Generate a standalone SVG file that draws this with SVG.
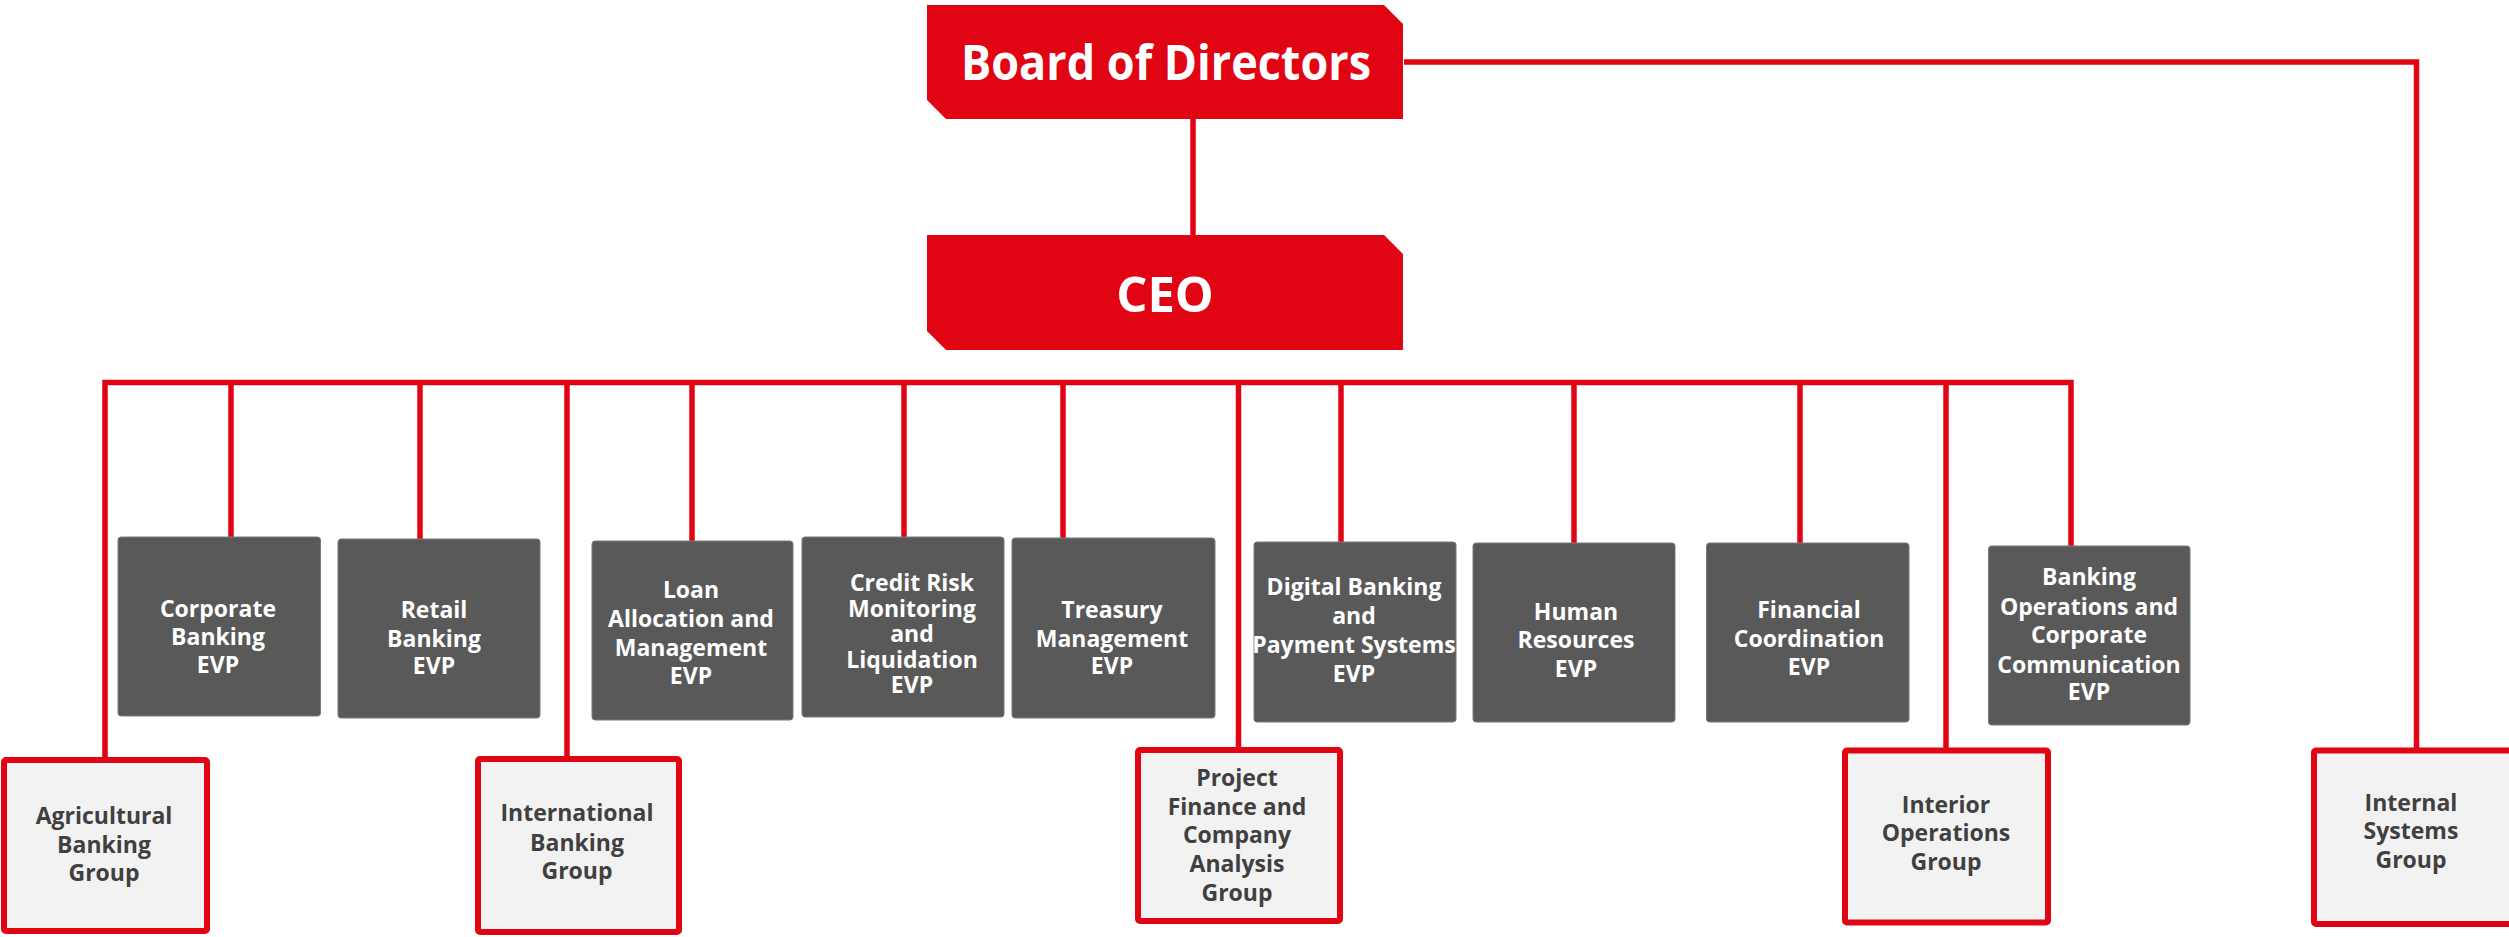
<svg xmlns="http://www.w3.org/2000/svg" width="2509" height="937" viewBox="0 0 2509 937">
<style>
.bg{fill:#ffffff}
.top{fill:#e10514}
.toptxt{font-family:"Open Sans","Liberation Sans",sans-serif;font-weight:700;font-size:49px;fill:#ffffff;text-anchor:middle}
.evp{fill:#595959;stroke:#7a7a7a;stroke-width:1}
.evptxt{font-family:"Open Sans","Liberation Sans",sans-serif;font-weight:700;font-size:23px;fill:#ffffff;text-anchor:middle}
.grp{fill:#f2f2f2;stroke:#e10514;stroke-width:6}
.grptxt{font-family:"Open Sans","Liberation Sans",sans-serif;font-weight:700;font-size:23px;fill:#404040;text-anchor:middle}
.wire{fill:none;stroke:#e10514;stroke-width:5.5;stroke-linejoin:miter;stroke-linecap:butt}
</style>
<rect class="bg" x="0" y="0" width="2509" height="937"/>

<g id="connectors">
  <path class="wire" d="M1404,62 H2416.5 V748"/>
  <path class="wire" d="M1193,119 V235"/>
  <path class="wire" d="M105,757 V382.5 H2071 V546"/>
  <path class="wire" d="M231,382.5 V537"/>
  <path class="wire" d="M420,382.5 V539"/>
  <path class="wire" d="M567,382.5 V756"/>
  <path class="wire" d="M692,382.5 V541"/>
  <path class="wire" d="M904,382.5 V537"/>
  <path class="wire" d="M1063,382.5 V538"/>
  <path class="wire" d="M1238.5,382.5 V747"/>
  <path class="wire" d="M1341,382.5 V542"/>
  <path class="wire" d="M1574,382.5 V543"/>
  <path class="wire" d="M1800,382.5 V543"/>
  <path class="wire" d="M1946,382.5 V748"/>
</g>

<g id="board">
  <polygon class="top" points="927,5 1384,5 1403,24 1403,119 946,119 927,100"/>
  <text class="toptxt" x="1166" y="80" textLength="410" lengthAdjust="spacingAndGlyphs">Board of Directors</text>
</g>

<g id="ceo">
  <polygon class="top" points="927,235 1384,235 1403,254 1403,350 946,350 927,331"/>
  <text class="toptxt" x="1165" y="312">CEO</text>
</g>

<g id="corporate">
  <rect class="evp" x="118" y="537" width="202.5" height="179" rx="3"/>
  <text class="evptxt" x="218"><tspan x="218" y="617">Corporate</tspan><tspan x="218" y="645">Banking</tspan><tspan x="218" y="673">EVP</tspan></text>
</g>

<g id="retail">
  <rect class="evp" x="338" y="539" width="202" height="179" rx="3"/>
  <text class="evptxt"><tspan x="434" y="618">Retail</tspan><tspan x="434" y="647">Banking</tspan><tspan x="434" y="674">EVP</tspan></text>
</g>

<g id="loan">
  <rect class="evp" x="592" y="541" width="201" height="179" rx="3"/>
  <text class="evptxt"><tspan x="691" y="598">Loan</tspan><tspan x="691" y="627">Allocation and</tspan><tspan x="691" y="656">Management</tspan><tspan x="691" y="684">EVP</tspan></text>
</g>

<g id="credit">
  <rect class="evp" x="802" y="537" width="202" height="180" rx="3"/>
  <text class="evptxt"><tspan x="912" y="591">Credit Risk</tspan><tspan x="912" y="617">Monitoring</tspan><tspan x="912" y="642">and</tspan><tspan x="912" y="668">Liquidation</tspan><tspan x="912" y="693">EVP</tspan></text>
</g>

<g id="treasury">
  <rect class="evp" x="1012" y="538" width="203" height="180" rx="3"/>
  <text class="evptxt"><tspan x="1112" y="618">Treasury</tspan><tspan x="1112" y="647">Management</tspan><tspan x="1112" y="674">EVP</tspan></text>
</g>

<g id="digital">
  <rect class="evp" x="1254" y="542" width="202" height="180" rx="3"/>
  <text class="evptxt"><tspan x="1354" y="595">Digital Banking</tspan><tspan x="1354" y="624">and</tspan><tspan x="1354" y="653">Payment Systems</tspan><tspan x="1354" y="682">EVP</tspan></text>
</g>

<g id="human">
  <rect class="evp" x="1473" y="543" width="202" height="179" rx="3"/>
  <text class="evptxt"><tspan x="1576" y="620">Human</tspan><tspan x="1576" y="648">Resources</tspan><tspan x="1576" y="677">EVP</tspan></text>
</g>

<g id="financial">
  <rect class="evp" x="1706.5" y="543" width="202.5" height="179" rx="3"/>
  <text class="evptxt"><tspan x="1809" y="618">Financial</tspan><tspan x="1809" y="647">Coordination</tspan><tspan x="1809" y="675">EVP</tspan></text>
</g>

<g id="bankingops">
  <rect class="evp" x="1988.5" y="546" width="201.5" height="179" rx="3"/>
  <text class="evptxt"><tspan x="2089" y="585">Banking</tspan><tspan x="2089" y="615">Operations and</tspan><tspan x="2089" y="643">Corporate</tspan><tspan x="2089" y="673">Communication</tspan><tspan x="2089" y="700">EVP</tspan></text>
</g>

<g id="agricultural">
  <rect class="grp" x="4" y="760" width="203" height="171" rx="2"/>
  <text class="grptxt"><tspan x="104" y="824">Agricultural</tspan><tspan x="104" y="853">Banking</tspan><tspan x="104" y="881">Group</tspan></text>
</g>

<g id="international">
  <rect class="grp" x="478" y="759" width="201" height="173" rx="2"/>
  <text class="grptxt"><tspan x="577" y="821">International</tspan><tspan x="577" y="851">Banking</tspan><tspan x="577" y="879">Group</tspan></text>
</g>

<g id="project">
  <rect class="grp" x="1138" y="750" width="202" height="171" rx="2"/>
  <text class="grptxt"><tspan x="1237" y="786">Project</tspan><tspan x="1237" y="815">Finance and</tspan><tspan x="1237" y="843">Company</tspan><tspan x="1237" y="872">Analysis</tspan><tspan x="1237" y="901">Group</tspan></text>
</g>

<g id="interior">
  <rect class="grp" x="1845" y="750.5" width="203" height="172" rx="2"/>
  <text class="grptxt"><tspan x="1946" y="813">Interior</tspan><tspan x="1946" y="841">Operations</tspan><tspan x="1946" y="870">Group</tspan></text>
</g>

<g id="internal">
  <rect class="grp" x="2314" y="750.5" width="203" height="173.5" rx="2"/>
  <text class="grptxt"><tspan x="2411" y="811">Internal</tspan><tspan x="2411" y="839">Systems</tspan><tspan x="2411" y="868">Group</tspan></text>
</g>
</svg>
